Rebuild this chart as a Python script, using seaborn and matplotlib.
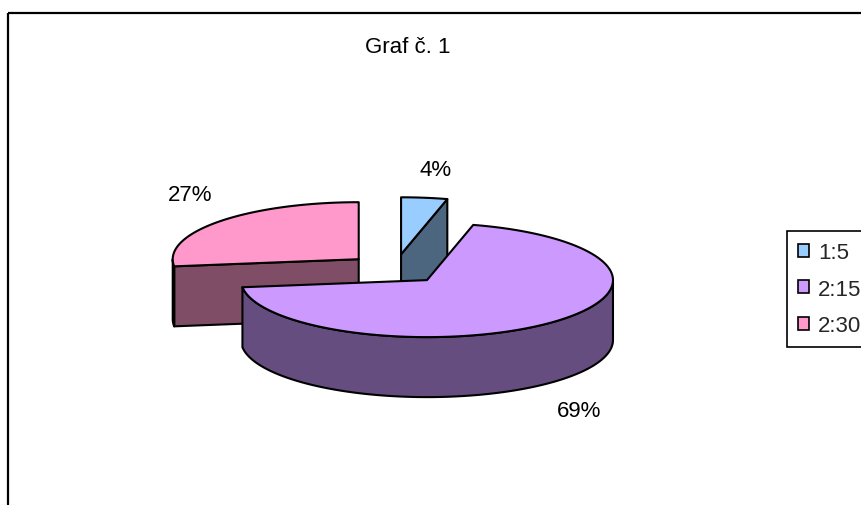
import numpy as np
import matplotlib
matplotlib.use("Agg")
import matplotlib.pyplot as plt
from matplotlib import font_manager
from matplotlib.colors import to_rgb
from matplotlib.patches import Polygon, Rectangle, Patch
import seaborn as sns

# Data
categories = ["1:5", "2:15", "2:30"]
shares = [4, 69, 27]
top_colors = ["#99CCFF", "#CC99FF", "#FF99CC"]
title = "Graf č. 1"

sns.set_theme(style="white")

# condensed face if available, otherwise the regular one
try:
    font_manager.findfont("Liberation Sans Narrow", fallback_to_default=False)
    fam, fs = "Liberation Sans Narrow", 19
except Exception:
    fam, fs = "Liberation Sans", 16
plt.rcParams["font.family"] = [fam, "DejaVu Sans"]

W, H = 862, 506
fig = plt.figure(figsize=(W / 100, H / 100), dpi=100)
ax = fig.add_axes([0, 0, 1, 1])
ax.set_xlim(0, W)
ax.set_ylim(H, 0)
ax.axis("off")

# 3-D pie geometry (pixel units of the canvas)
cx, cy = 395, 270
rx, ry = 186, 57
depth = 60
explode = 0.26
lw = 1.5


def shade(c, f=0.5):
    r, g, b = to_rgb(c)
    return (r * f, g * f, b * f)


def rim(ox, oy, th_deg, dz=0.0):
    th = np.radians(th_deg)
    return ox + rx * np.sin(th), oy - ry * np.cos(th) + dz


fr = np.array(shares, dtype=float) / sum(shares)
bounds = np.concatenate([[0.0], np.cumsum(fr)]) * 360.0

slices = []
for i in range(len(shares)):
    t0, t1 = bounds[i], bounds[i + 1]
    mid = (t0 + t1) / 2
    m = np.radians(mid)
    ox = cx + explode * rx * np.sin(m)
    oy = cy - explode * ry * np.cos(m)
    slices.append(dict(i=i, t0=t0, t1=t1, mid=mid, ox=ox, oy=oy))

# paint from back to front
for s in sorted(slices, key=lambda d: -np.cos(np.radians(d["mid"]))):
    i, t0, t1, ox, oy = s["i"], s["t0"], s["t1"], s["ox"], s["oy"]
    col = top_colors[i]
    side = shade(col)
    faces = []
    if np.sin(np.radians(t0)) < -1e-9:
        x1, y1 = rim(ox, oy, t0)
        faces.append([(ox, oy), (x1, y1), (x1, y1 + depth), (ox, oy + depth)])
    if np.sin(np.radians(t1)) > 1e-9:
        x1, y1 = rim(ox, oy, t1)
        faces.append([(ox, oy), (x1, y1), (x1, y1 + depth), (ox, oy + depth)])
    lo, hi = max(t0, 90.0), min(t1, 270.0)
    if hi > lo:
        ths = np.linspace(lo, hi, 150)
        top = [rim(ox, oy, t) for t in ths]
        bot = [rim(ox, oy, t, depth) for t in ths[::-1]]
        faces.append(top + bot)
    for f in faces:
        ax.add_patch(Polygon(f, closed=True, fc=side, ec="black", lw=lw,
                             joinstyle="round"))
    ths = np.linspace(t0, t1, 300)
    poly = [(ox, oy)] + [rim(ox, oy, t) for t in ths]
    ax.add_patch(Polygon(poly, closed=True, fc=col, ec="black", lw=lw,
                         joinstyle="round"))

# percentage labels
for s in slices:
    m = np.radians(s["mid"])
    u, v = np.sin(m), np.cos(m)
    px, py = rim(s["ox"], s["oy"], s["mid"], depth if v < 0 else 0.0)
    lx = px + 30 * np.tanh(3 * u)
    ly = py - 28 * np.tanh(3 * v)
    ax.text(lx, ly, f"{shares[s['i']]}%", ha="center", va="center",
            fontsize=fs, color="black")

ax.text(408, 47, title, ha="center", va="center", fontsize=fs, color="black")

# chart area border
ax.add_patch(Rectangle((8, 14), 1000, 1000, fill=False, ec="black", lw=1.6))

handles = [Patch(facecolor=c, edgecolor="black", lw=1.2) for c in top_colors]
leg = fig.legend(handles, categories, loc="upper left",
                 bbox_to_anchor=(787 / W, 1 - 232 / H),
                 frameon=True, fancybox=False, framealpha=1,
                 fontsize=fs, handlelength=0.5, handleheight=0.5,
                 handletextpad=0.4, labelspacing=0.7, borderpad=0.5,
                 borderaxespad=0)
leg.get_frame().set_edgecolor("black")
leg.get_frame().set_linewidth(1.2)

fig.savefig("out.png", dpi=100)
